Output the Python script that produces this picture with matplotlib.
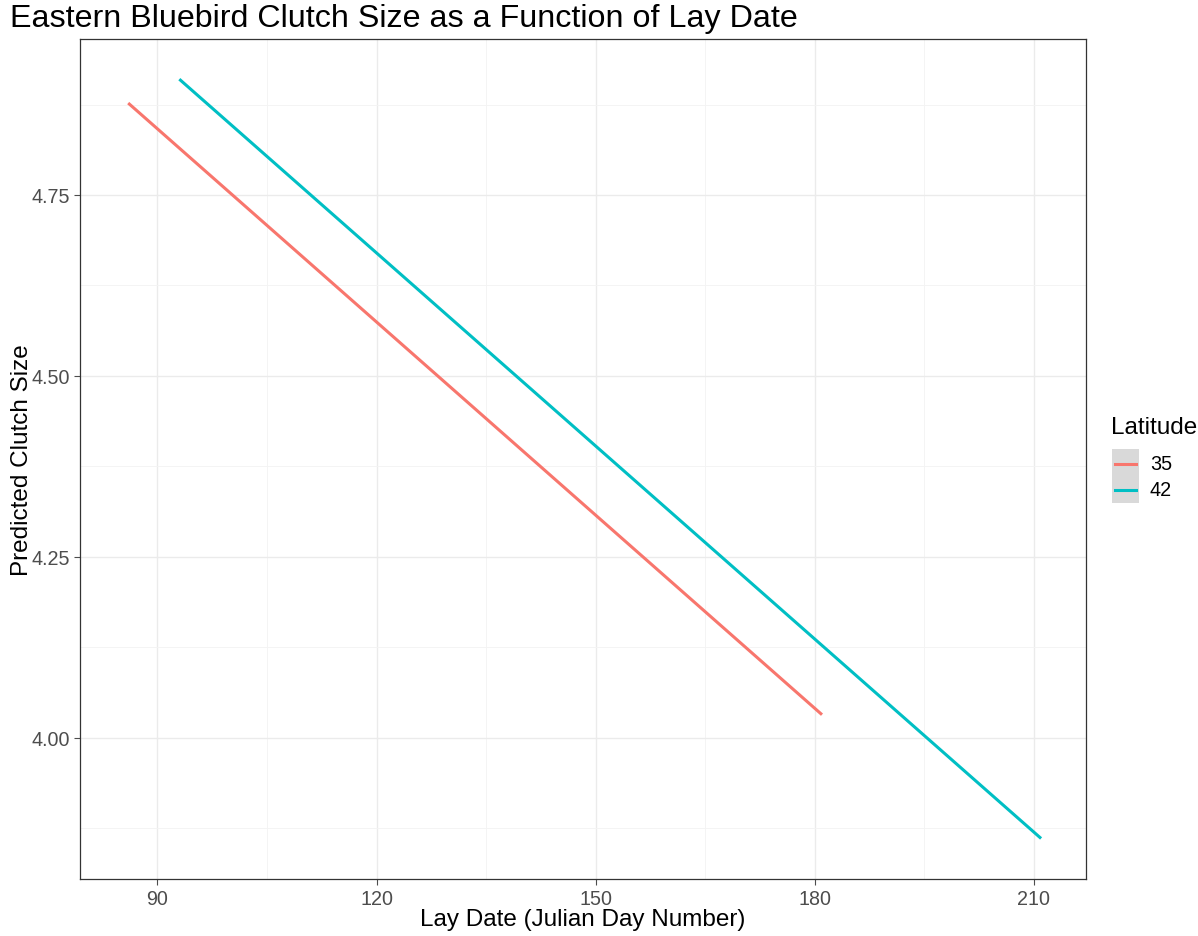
import matplotlib
matplotlib.use("Agg")
import matplotlib.pyplot as plt
from matplotlib.lines import Line2D
from matplotlib.patches import Rectangle

plt.rcParams["font.family"] = ["Liberation Sans", "DejaVu Sans"]

# fitted lines: lay date range and predicted clutch size at each end
latitudes = ["35", "42"]
lay_start = [86, 93]
lay_end = [181, 211]
clutch_start = [4.877, 4.910]
clutch_end = [4.032, 3.861]
colors = ["#F8766D", "#00BFC4"]

x_ticks = [90, 120, 150, 180, 210]
x_minor = [105, 135, 165, 195]
y_ticks = [4.00, 4.25, 4.50, 4.75]
y_minor = [3.875, 4.125, 4.375, 4.625, 4.875]

W, H = 1198, 937
fig = plt.figure(figsize=(W / 100, H / 100), dpi=100)
ax = fig.add_axes([80 / W, 1 - 880 / H, (1086 - 80) / W, (880 - 40) / H])

for lat, x0, x1, y0, y1, c in zip(latitudes, lay_start, lay_end,
                                  clutch_start, clutch_end, colors):
    ax.plot([x0, x1], [y0, y1], color=c, lw=2.2, solid_capstyle="butt",
            zorder=3)

ax.set_xlim(79.4, 217.15)
ax.set_ylim(3.805, 4.9655)
ax.set_xticks(x_ticks)
ax.set_xticks(x_minor, minor=True)
ax.set_yticks(y_ticks)
ax.set_yticks(y_minor, minor=True)
ax.set_yticklabels([f"{v:.2f}" for v in y_ticks])
ax.grid(which="major", color="#EBEBEB", lw=1.0)
ax.grid(which="minor", color="#F3F3F3", lw=0.6)
ax.set_axisbelow(True)
ax.tick_params(which="major", length=4, width=0.8, color="#4D4D4D",
               labelcolor="#4D4D4D", labelsize=14.2, pad=3)
ax.tick_params(which="minor", length=0)
for s in ax.spines.values():
    s.set_color("#333333")
    s.set_linewidth(0.9)

ax.set_xlabel("Lay Date (Julian Day Number)", fontsize=17.5, labelpad=0)
ax.set_ylabel("Predicted Clutch Size", fontsize=17.5, labelpad=-1)
fig.text(10 / W, 1 - 19 / H, "Eastern Bluebird Clutch Size as a Function of Lay Date",
         fontsize=23.2, va="center", ha="left")

# legend drawn by hand
fig.text(1111 / W, 1 - 428 / H, "Latitude", fontsize=17.5, va="center", ha="left")
fig.patches.append(Rectangle((1112 / W, 1 - 504 / H), 27 / W, 54 / H,
                             transform=fig.transFigure, facecolor="#D9D9D9",
                             edgecolor="none", figure=fig))
for i, (lat, c) in enumerate(zip(latitudes, colors)):
    yk = 1 - (465 + 26 * i) / H
    fig.lines.append(Line2D([1115 / W, 1136 / W], [yk, yk], color=c, lw=2.2,
                            transform=fig.transFigure, figure=fig))
    fig.text(1150 / W, yk, lat, fontsize=14.2, va="center", ha="left")

fig.savefig("out.png", dpi=100)
